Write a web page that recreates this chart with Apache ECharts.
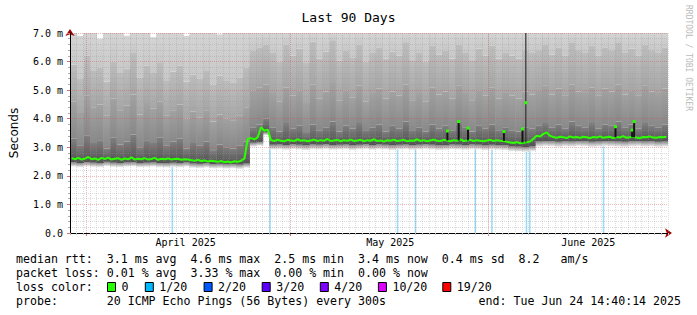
<!DOCTYPE html>
<html><head><meta charset="utf-8">
<script src="https://cdn.jsdelivr.net/npm/echarts@6/dist/echarts.min.js"></script>
<style>html,body{margin:0;padding:0;background:#fff}#c{width:697px;height:315px}</style>
</head><body><div id="c"></div>
<script>
// ---- data (ms, x in days since graph start) ----
const monthLabels = ['April 2025', 'May 2025', 'June 2025'];
const monthStart = [2.4, 33.2, 63.0];
const monthLabelPos = [17.4, 48.2, 78.0];
const yTicks = [0, 1, 2, 3, 4, 5, 6, 7];

// smoke layers, one value per day (90 days)
const smokeLow = [2.32,2.30,2.33,2.31,2.30,2.34,2.31,2.30,2.32,2.33,2.30,2.31,2.32,2.30,2.29,2.31,2.30,2.32,2.28,2.27,2.29,2.26,2.27,2.25,2.26,2.24,2.28,
 3.02,3.05,3.42,
 2.92,2.93,2.91,2.94,2.92,2.90,2.93,2.92,2.94,2.91,2.92,2.93,2.90,2.92,2.94,2.91,2.93,2.92,2.90,2.92,2.93,2.91,2.92,2.94,2.92,2.90,2.91,2.93,2.92,2.91,2.93,2.92,2.90,2.92,2.91,2.90,
 2.86,2.85,2.84,2.86,
 3.02,3.04,3.03,3.01,3.03,3.02,3.04,3.03,3.01,3.02,3.04,3.03,3.02,3.01,3.03,3.04,3.02,3.03,3.01,3.02];
const smokeDarkLow = [2.47,2.45,2.48,2.46,2.45,2.49,2.46,2.45,2.47,2.48,2.45,2.46,2.47,2.45,2.44,2.46,2.45,2.47,2.43,2.42,2.44,2.41,2.42,2.40,2.41,2.39,2.43,
 3.16,3.18,3.52,
 3.09,3.10,3.08,3.11,3.09,3.07,3.10,3.09,3.11,3.08,3.09,3.10,3.07,3.09,3.11,3.08,3.10,3.09,3.07,3.09,3.10,3.08,3.09,3.11,3.09,3.07,3.08,3.10,3.09,3.08,3.10,3.09,3.07,3.09,3.08,3.07,
 3.03,3.02,3.01,3.03,
 3.20,3.22,3.21,3.19,3.21,3.20,3.22,3.21,3.19,3.20,3.22,3.21,3.20,3.19,3.21,3.22,3.20,3.21,3.19,3.20];
const smokeDarkHigh = [3.30,3.05,3.40,3.15,3.25,2.95,3.35,3.10,3.20,3.45,3.00,3.25,3.15,3.35,3.05,3.20,3.30,2.95,3.15,3.05,3.20,2.90,3.10,3.00,2.95,3.05,3.20,
 3.70,3.80,4.00,
 3.70,3.55,3.85,3.65,3.75,3.50,3.80,3.60,3.70,3.90,3.55,3.75,3.65,3.85,3.60,3.70,3.80,3.55,3.75,3.65,3.90,3.60,3.70,3.55,3.80,3.65,3.75,3.60,3.85,3.70,3.55,3.75,3.65,3.80,3.60,3.70,
 3.60,3.55,3.70,3.65,
 3.75,3.85,3.70,3.80,3.65,3.90,3.75,3.70,3.85,3.65,3.80,3.75,3.90,3.70,3.80,3.65,3.85,3.75,3.70,3.80];
const smokeMidHigh = [4.60,4.20,4.80,4.40,4.50,4.10,4.70,4.30,4.45,4.85,4.15,4.55,4.35,4.60,4.10,4.30,4.50,4.00,4.25,4.05,4.30,3.90,4.15,4.00,3.95,4.10,4.40,
 5.00,5.10,5.20,
 4.90,4.60,5.10,4.80,5.00,4.55,5.20,4.70,4.95,5.25,4.65,5.00,4.75,5.15,4.60,4.90,5.05,4.70,4.95,4.80,5.20,4.65,4.90,4.60,5.10,4.85,4.95,4.70,5.15,4.90,4.65,5.00,4.80,5.10,4.70,4.90,
 4.80,4.70,4.95,4.85,
 5.00,5.15,4.85,5.05,4.80,5.20,4.95,4.90,5.10,4.80,5.05,4.95,5.20,4.85,5.00,4.80,5.15,4.95,4.90,5.05];
const smokeLightHigh = [5.90,5.40,6.20,5.70,5.80,5.30,6.00,5.60,5.75,6.30,5.45,5.85,5.60,5.95,5.35,5.65,5.85,5.30,5.55,5.40,5.70,5.20,5.50,5.35,5.25,5.45,5.80,
 6.40,6.50,6.60,
 6.30,6.00,6.60,6.20,6.45,5.95,6.70,6.10,6.35,6.75,6.05,6.40,6.15,6.60,6.00,6.30,6.50,6.10,6.35,6.20,6.65,6.05,6.30,6.00,6.55,6.25,6.40,6.10,6.60,6.30,6.05,6.45,6.20,6.55,6.10,6.30,
 6.20,6.10,6.40,6.30,
 6.40,6.60,6.25,6.50,6.20,6.65,6.40,6.30,6.55,6.20,6.50,6.40,6.65,6.30,6.45,6.20,6.60,6.40,6.30,6.50];
const smokeTop = [7.5,6.9,7.5,7.5,6.8,7.5,7.5,7.5,6.9,7.5,7.5,7.5,6.85,7.5,7.5,7.5,7.5,6.9,7.5,7.5,7.5,7.5,6.95,7.5,7.5,7.5,7.5,
 7.5,7.5,7.5,
 7.5,7.5,7.5,7.5,7.5,7.5,7.5,7.5,7.5,7.5,7.5,7.5,7.5,7.5,7.5,7.5,7.5,7.5,7.5,7.5,7.5,7.5,7.5,7.5,7.5,7.5,7.5,7.5,7.5,7.5,7.5,7.5,7.5,7.5,7.5,7.5,
 7.5,7.5,7.5,7.5,
 7.5,7.5,7.5,7.5,7.5,7.5,7.5,7.5,7.5,7.5,7.5,7.5,7.5,7.5,7.5,7.5,7.5,7.5,7.5,7.5];

// median rtt, one value per half day (180 values)
const medianRtt = [2.62,2.58,2.63,2.57,2.60,2.66,2.58,2.61,2.56,2.63,2.59,2.64,2.57,2.60,2.62,2.56,2.61,2.58,2.65,2.57,2.60,2.58,2.62,2.57,2.59,2.63,2.56,2.60,2.58,2.61,2.57,2.59,2.60,2.56,2.58,2.57,
 2.55,2.53,2.56,2.52,2.54,2.50,2.53,2.51,2.49,2.52,2.48,2.50,2.47,2.51,2.49,2.53,2.60,
 3.30,
 3.32,3.28,3.35,
 3.70,3.58,3.62,
 3.25,3.22,3.27,3.23,3.21,3.26,3.24,3.22,3.28,3.23,
 3.25,3.21,3.24,3.27,3.22,3.25,3.23,3.29,3.22,3.24,
 3.26,3.21,3.25,3.23,3.27,3.22,3.24,3.26,3.21,3.25,
 3.23,3.28,3.22,3.24,3.20,3.25,3.23,3.27,3.22,3.24,
 3.26,3.21,3.24,3.23,3.28,3.22,3.25,3.21,3.24,3.27,
 3.23,3.22,3.26,3.24,3.21,3.25,3.23,3.28,3.22,3.24,
 3.26,3.22,3.25,3.23,3.21,3.24,3.26,3.22,3.25,3.23,3.22,
 3.19,3.17,3.15,3.18,3.14,3.16,3.18,3.20,
 3.30,
 3.40,3.38,3.47,
 3.52,
 3.40,3.36,3.33,3.37,3.35,3.32,3.38,3.34,3.36,3.33,
 3.37,3.35,3.32,3.36,3.34,3.38,3.33,3.35,3.37,3.32,
 3.36,3.34,3.39,3.33,3.35,3.37,3.34,3.32,3.36,3.35,
 3.38,3.34,3.33,3.36,3.35,3.37];

// 1/20 packet loss events
const lossDays = [15.4, 30.1, 49.3, 52.0, 61.0, 63.5, 68.7, 69.2, 80.3];
const lossRtt  = [2.58, 3.25, 3.24, 3.23, 3.24, 3.22, 3.17, 3.19, 3.35];

// outlier spikes
const spikeDays  = [56.8, 58.5, 59.9, 65.3, 68.1, 68.6, 82.1, 84.6, 84.9];
const spikeBase  = [3.24, 3.24, 3.24, 3.22, 3.17, 3.17, 3.35, 3.35, 3.35];
const spikeTop   = [3.57, 3.90, 3.67, 3.55, 3.64, 7.20, 3.72, 3.60, 3.90];
const spikeMed   = [3.57, 3.90, 3.67, 3.55, 3.64, 4.56, 3.72, 3.60, 3.90];

const statRows = [
 'median rtt:  3.1 ms avg  4.6 ms max  2.5 ms min  3.4 ms now  0.4 ms sd  8.2   am/s',
 'packet loss: 0.01 % avg  3.33 % max  0.00 % min  0.00 % now',
 'loss color:',
 'probe:       20 ICMP Echo Pings (56 Bytes) every 300s'
];
const endText = 'end: Tue Jun 24 14:40:14 2025';
const lossLegend = ['0', '1/20', '2/20', '3/20', '4/20', '10/20', '19/20'];
const lossColors = ['#26ff00', '#00b8ff', '#0059ff', '#5e00ff', '#7e00ff', '#dd00ff', '#ff0000'];

// ---- chart ----
const days = smokeLow.map((_, i) => i);
const halfDays = medianRtt.map((_, i) => i * 0.5 + 0.25);
const MONO = 'DejaVu Sans Mono';

function clip(r, params) {
  const cs = params.coordSys;
  return echarts.graphic.clipRectByRect(r, {x: cs.x, y: cs.y, width: cs.width, height: cs.height});
}
function band(lows, highs, topColor, bottomColor) {
  return {
    type: 'custom', silent: true, z: 1, animation: false,
    data: days.map((d, i) => [d, lows[i], highs[i]]),
    renderItem(params, api) {
      const x0 = api.value(0);
      const a = api.coord([x0, api.value(2)]);
      const b = api.coord([x0 + 1, api.value(1)]);
      const r = clip({x: a[0], y: a[1], width: b[0] - a[0] + 0.6, height: b[1] - a[1]}, params);
      if (!r) return;
      const fill = topColor === bottomColor ? topColor :
        new echarts.graphic.LinearGradient(0, 0, 0, 1, [{offset: 0, color: topColor}, {offset: 1, color: bottomColor}]);
      return {type: 'rect', shape: r, style: {fill: fill}};
    }
  };
}

const chart = echarts.init(document.getElementById('c'), null, {renderer: 'svg'});
const CW = 7.0, X0 = 16;
const graphics = [];
statRows.forEach((t, i) => graphics.push({type: 'text', x: X0, y: 259 + i * 14,
  style: {text: t, font: '11.6px "' + MONO + '"', fill: '#000', verticalAlign: 'middle'}}));
graphics.push({type: 'text', x: 681, y: 301, style: {text: endText, font: '11.6px "' + MONO + '"', fill: '#000', align: 'right', verticalAlign: 'middle'}});
const boxCols = [13, 18.4, 26.8, 35.1, 43.4, 51.7, 60.9];
lossLegend.forEach((t, i) => {
  const bx = X0 + boxCols[i] * CW;
  graphics.push({type: 'rect', shape: {x: bx + 0.5, y: 282.5, width: 8, height: 9}, style: {fill: lossColors[i], stroke: '#000', lineWidth: 1}});
  graphics.push({type: 'text', x: bx + 14.5, y: 287, style: {text: t, font: '11.6px "' + MONO + '"', fill: '#000', verticalAlign: 'middle'}});
});
graphics.push({type: 'text', x: 688, y: 5, rotation: -Math.PI / 2,
  style: {text: 'RRDTOOL / TOBI OETIKER', font: '8px "' + MONO + '"', fill: '#bbbbbb', verticalAlign: 'middle'}});

const MAJOR = 'rgba(215,70,70,0.38)';
const MINOR = 'rgba(150,150,150,0.32)';

chart.setOption({
  animation: false,
  backgroundColor: '#ffffff',
  title: {text: 'Last 90 Days', left: 'center', top: 6,
    textStyle: {fontFamily: MONO, fontSize: 13, fontWeight: 'normal', color: '#000'}},
  grid: {left: 66, right: 29, top: 33, bottom: 82},
  xAxis: [
    {type: 'value', min: 0, max: 90, interval: 1, z: 5,
     axisLine: {show: true, lineStyle: {color: '#000'}},
     axisTick: {show: true, length: 2, lineStyle: {color: '#bbb'}},
     axisLabel: {show: false},
     splitLine: {show: true, lineStyle: {color: MINOR, type: [1, 1]}}},
    {type: 'value', min: 0, max: 90, position: 'bottom', z: 4,
     axisLine: {show: true, symbol: ['none', 'arrow'], symbolSize: [7, 7], symbolOffset: [0, 4], lineStyle: {color: '#a00000'}},
     axisTick: {show: true, customValues: monthStart, length: 3, lineStyle: {color: '#e07070'}},
     axisLabel: {show: true, customValues: monthLabelPos, margin: 4, fontFamily: MONO, fontSize: 10, color: '#000',
       formatter: v => monthLabels[monthLabelPos.indexOf(v)] || ''},
     splitLine: {show: false}}
  ],
  yAxis: [
    {type: 'value', min: 0, max: 7, interval: 1, z: 5,
     name: 'Seconds', nameLocation: 'middle', nameGap: 50, nameRotate: 90,
     nameTextStyle: {fontFamily: 'DejaVu Sans', fontSize: 12, color: '#000'},
     axisLine: {show: true, lineStyle: {color: '#000'}},
     axisTick: {show: true, length: 3, lineStyle: {color: '#e07070'}},
     minorTick: {show: true, splitNumber: 5, length: 2, lineStyle: {color: '#aaa'}},
     axisLabel: {fontFamily: MONO, fontSize: 10, color: '#000', margin: 7,
       customValues: yTicks, formatter: v => v === 0 ? '0.0' : v.toFixed(1) + ' m'},
     splitLine: {show: true, lineStyle: {color: MAJOR, type: [1, 1]}},
     minorSplitLine: {show: true, lineStyle: {color: MINOR, type: [1, 1]}}},
    {type: 'value', min: 0, max: 7, position: 'left', z: 4,
     axisLine: {show: true, symbol: ['none', 'arrow'], symbolSize: [7, 7], symbolOffset: [0, 4], lineStyle: {color: '#a00000'}},
     axisTick: {show: false}, axisLabel: {show: false}, splitLine: {show: false}}
  ],
  graphic: graphics,
  series: [
    {type: 'custom', silent: true, z: 1, animation: false,
     data: lossDays.map((d, i) => [d, lossRtt[i]]),
     renderItem(params, api) {
       const a = api.coord([api.value(0), api.value(1)]);
       const b = api.coord([api.value(0), 0]);
       return {type: 'rect', shape: {x: a[0] - 0.8, y: a[1], width: 1.6, height: b[1] - a[1]}, style: {fill: '#9fdcf6'}};
     }},
    band(smokeLow, smokeDarkLow, '#8a8a8a', '#f2f2f2'),
    band(smokeDarkLow, smokeDarkHigh, '#7e7e7e', '#525252'),
    band(smokeDarkHigh, smokeMidHigh, '#a2a2a2', '#888888'),
    band(smokeMidHigh, smokeLightHigh, '#bdbdbd', '#a6a6a6'),
    band(smokeLightHigh, smokeTop, '#d4d4d4', '#c8c8c8'),
    {type: 'line', data: [], z: 5, silent: true,
     markLine: {silent: true, symbol: 'none', label: {show: false},
       lineStyle: {color: MAJOR, type: [1, 1], width: 1},
       data: monthStart.map(v => ({xAxis: v}))}},
    {type: 'line', data: halfDays.map((d, i) => [d, medianRtt[i]]), z: 6, showSymbol: false, silent: true,
     lineStyle: {color: '#2cff00', width: 2}},
    {type: 'custom', silent: true, z: 7, animation: false,
     data: spikeDays.map((d, i) => [d, spikeBase[i], spikeTop[i], spikeMed[i]]),
     renderItem(params, api) {
       const d = api.value(0);
       const a = api.coord([d, api.value(2)]);
       const b = api.coord([d, api.value(1)]);
       const g = api.coord([d, api.value(3)]);
       const tall = api.value(2) > 6;
       const r = clip({x: a[0] - (tall ? 0.6 : 1), y: a[1], width: tall ? 1.2 : 2, height: b[1] - a[1]}, params);
       return {type: 'group', children: [
         {type: 'rect', shape: r, style: {fill: tall ? '#333' : '#151515'}},
         {type: 'rect', shape: {x: g[0] - 1.5, y: g[1] - 1.5, width: 3, height: 3}, style: {fill: '#2cff00'}}
       ]};
     }}
  ]
});
</script></body></html>
